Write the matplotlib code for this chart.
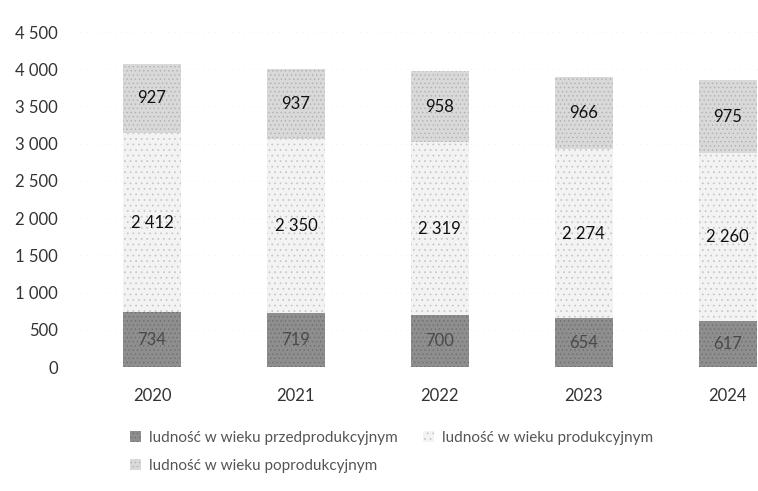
import numpy as np
import matplotlib
matplotlib.use("Agg")
import matplotlib.pyplot as plt

# Data
years = ["2020", "2021", "2022", "2023", "2024"]
pre_prod = [734, 719, 700, 654, 617]
prod = [2412, 2350, 2319, 2274, 2260]
post_prod = [927, 937, 958, 966, 975]
series_names = ["ludność w wieku przedprodukcyjnym",
                "ludność w wieku produkcyjnym",
                "ludność w wieku poprodukcyjnym"]
yticks = [0, 500, 1000, 1500, 2000, 2500, 3000, 3500, 4000, 4500]


def fmt(v):
    return f"{v:,}".replace(",", " ")


plt.rcParams["font.family"] = ["Lato", "DejaVu Sans"]
plt.rcParams["hatch.linewidth"] = 0.5

fig = plt.figure(figsize=(7.58, 4.91), dpi=100)
ax = fig.add_axes([0.1055, 0.2525, 0.8945, 0.6823])

x = np.arange(len(years))
w = 0.40
pre = np.array(pre_prod)
mid = np.array(prod)
top = np.array(post_prod)

b1 = ax.bar(x, pre, w, color="#8e8e8e", edgecolor="#6e6e6e", hatch="....", linewidth=0)
b2 = ax.bar(x, mid, w, bottom=pre, color="#f3f3f3", edgecolor="#c4c4c4", hatch="...", linewidth=0)
b3 = ax.bar(x, top, w, bottom=pre + mid, color="#d9d9d9", edgecolor="#b0b0b0", hatch="....", linewidth=0)

for i in range(len(years)):
    ax.text(x[i], pre[i] / 2, fmt(pre[i]), ha="center", va="center", fontsize=12, color="#4a4a4a")
    ax.text(x[i], pre[i] + mid[i] / 2, fmt(mid[i]), ha="center", va="center", fontsize=12, color="#111111")
    ax.text(x[i], pre[i] + mid[i] + top[i] / 2, fmt(top[i]), ha="center", va="center", fontsize=12, color="#111111")

ax.set_ylim(0, 4500)
ax.set_xlim(-0.5, 4.21)
ax.set_yticks(yticks)
ax.set_yticklabels([fmt(v) for v in yticks], fontsize=12, color="#333333")
ax.set_xticks(x)
ax.set_xticklabels(years, fontsize=12, color="#333333")
ax.tick_params(axis="both", length=0)
ax.tick_params(axis="y", pad=16)
ax.tick_params(axis="x", pad=15)
for s in ax.spines.values():
    s.set_visible(False)
ax.yaxis.grid(True, color="#f0f0f0", linestyle=(0, (1, 5)), linewidth=0.7)
ax.set_axisbelow(True)

# legend (row-major order with 2 columns)
leg = fig.legend([b1, b3, b2], [series_names[0], series_names[2], series_names[1]],
                 ncol=2, loc="upper left", bbox_to_anchor=(0.172, 0.123),
                 frameon=False, fontsize=11, handlelength=0.7, handleheight=0.7,
                 handletextpad=0.5, columnspacing=1.7, labelspacing=0.95,
                 borderaxespad=0, borderpad=0)
for t in leg.get_texts():
    t.set_color("#555555")

fig.savefig("out.png", dpi=100)
